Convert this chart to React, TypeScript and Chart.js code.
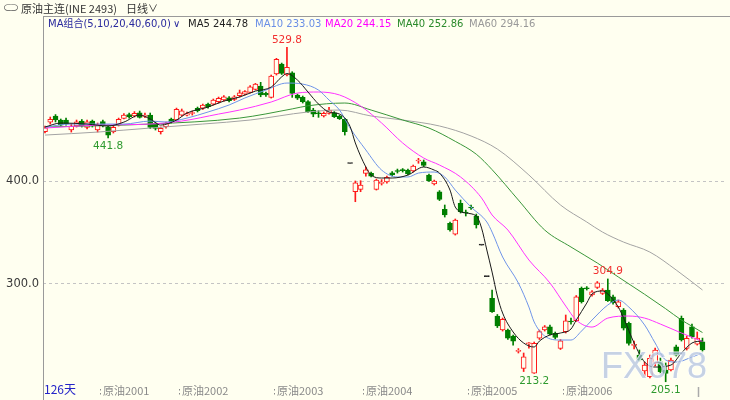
import React, { useEffect, useRef } from 'react';
import { Chart, registerables } from 'chart.js';

Chart.register(...registerables);

// ---- daily OHLC (126 bars) ----
const opens: number[] = [
  447.8, 457.0, 463.1, 459.2, 459.2, 449.5, 453.4, 458.2, 452.1, 458.2,
  449.5, 457.7, 452.7, 447.8, 454.3, 460.8, 464.5, 463.1, 466.3, 462.6,
  464.0, 456.0, 447.8, 452.7, 460.2, 459.2, 464.0, 464.0, 465.5, 470.6,
  470.6, 474.7, 474.7, 477.0, 478.6, 480.8, 479.3, 482.8, 484.4, 486.1,
  489.0, 492.2, 485.1, 481.2, 503.9, 513.6, 502.9, 505.1, 483.5, 481.2,
  477.0, 468.9, 466.0, 463.1, 465.7, 466.3, 463.1, 459.9, 417.0, 389.6,
  391.9, 407.4, 407.4, 391.9, 397.7, 399.0, 408.0, 410.0, 410.7, 410.7,
  409.7, 419.4, 418.7, 405.8, 397.1, 389.6, 372.5, 358.9, 348.5, 378.3,
  369.6, 374.4, 366.0, 337.8, 307.1, 286.1, 268.9, 255.3, 255.3, 249.5,
  234.6, 218.1, 242.0, 213.5, 247.3, 255.3, 258.5, 252.1, 237.5, 253.7,
  263.7, 264.3, 295.8, 296.1, 289.3, 296.8, 290.9, 294.1, 287.6, 277.9,
  274.7, 261.8, 240.4, 231.0, 215.5, 210.0, 223.3, 224.5, 216.5, 216.5,
  239.1, 266.7, 237.5, 258.5, 241.7, 243.9,
];
const highs: number[] = [
  453.4, 462.1, 464.5, 460.2, 461.1, 455.3, 459.2, 459.7, 459.2, 459.2,
  456.3, 459.2, 454.3, 453.4, 461.1, 465.5, 466.0, 467.4, 467.9, 466.0,
  466.0, 457.3, 452.4, 457.3, 461.1, 470.8, 469.9, 467.0, 467.9, 471.8,
  474.7, 475.7, 479.6, 481.5, 483.0, 482.0, 483.0, 488.3, 487.8, 492.7,
  494.8, 495.8, 486.4, 502.9, 519.1, 514.5, 529.8, 506.1, 484.4, 482.5,
  478.1, 470.6, 468.2, 467.0, 471.5, 467.4, 464.0, 460.8, 417.0, 400.0,
  400.3, 413.6, 408.7, 401.9, 401.4, 404.8, 409.2, 411.6, 412.1, 411.6,
  415.5, 422.0, 420.4, 406.8, 400.9, 390.7, 376.7, 360.2, 363.1, 381.5,
  371.8, 376.7, 367.9, 337.8, 307.1, 294.1, 270.4, 267.0, 256.3, 250.5,
  237.3, 233.0, 243.2, 243.7, 255.3, 259.7, 260.2, 253.4, 246.1, 269.9,
  267.0, 288.8, 297.1, 297.5, 293.7, 302.4, 295.6, 304.9, 289.3, 284.4,
  276.2, 263.1, 244.6, 235.9, 224.2, 231.0, 237.8, 228.1, 223.3, 228.1,
  240.7, 268.9, 249.5, 261.1, 253.4, 247.5,
];
const lows: number[] = [
  446.6, 455.3, 457.3, 453.4, 454.3, 447.5, 452.4, 452.4, 450.5, 452.4,
  447.5, 452.4, 441.8, 446.6, 453.4, 460.2, 461.1, 462.1, 461.1, 461.6,
  450.9, 449.5, 445.6, 451.4, 456.3, 458.2, 463.1, 463.1, 464.0, 467.0,
  469.4, 470.8, 473.8, 475.7, 477.6, 476.7, 478.1, 481.5, 483.5, 485.4,
  488.3, 481.8, 482.0, 480.5, 502.9, 503.4, 501.9, 481.2, 479.1, 475.7,
  466.5, 462.4, 461.8, 462.1, 465.0, 461.6, 459.7, 444.6, 417.0, 379.9,
  389.6, 404.8, 403.9, 391.2, 396.1, 398.0, 404.8, 407.7, 408.7, 405.8,
  408.7, 417.2, 414.0, 399.5, 396.1, 381.0, 365.0, 351.4, 347.5, 368.9,
  366.0, 372.3, 354.3, 337.8, 307.1, 272.3, 257.7, 254.3, 246.1, 240.7,
  233.0, 215.0, 237.8, 213.2, 246.1, 254.3, 250.5, 246.6, 236.4, 252.4,
  261.1, 263.6, 281.5, 294.1, 288.3, 295.6, 289.8, 283.0, 280.5, 276.7,
  255.3, 240.7, 236.9, 225.2, 210.6, 208.7, 220.4, 213.6, 205.1, 215.5,
  230.1, 244.6, 235.9, 247.5, 240.7, 234.9,
];
const closes: number[] = [
  451.7, 459.9, 459.2, 454.3, 455.3, 453.4, 457.5, 453.4, 457.5, 453.4,
  454.3, 453.4, 444.6, 452.1, 459.9, 464.0, 462.1, 465.7, 461.8, 464.0,
  452.1, 451.1, 451.1, 456.0, 457.5, 469.6, 468.2, 465.5, 466.5, 468.2,
  473.8, 472.1, 478.6, 480.3, 481.8, 477.9, 481.8, 485.7, 486.7, 491.5,
  494.1, 483.5, 483.5, 501.9, 518.1, 504.5, 510.4, 485.1, 480.3, 477.0,
  467.3, 465.0, 465.3, 465.7, 468.9, 462.4, 460.5, 447.8, 417.0, 398.3,
  396.1, 410.9, 404.8, 400.9, 398.7, 403.6, 405.8, 409.2, 410.0, 406.8,
  414.5, 420.1, 415.2, 400.3, 400.0, 382.2, 367.0, 352.4, 362.1, 370.2,
  368.9, 373.8, 357.3, 337.8, 307.1, 273.1, 259.2, 265.7, 247.3, 244.6,
  235.4, 229.4, 242.7, 242.4, 253.7, 258.5, 251.4, 248.2, 244.9, 264.3,
  263.1, 287.6, 282.8, 295.4, 292.5, 301.2, 294.1, 283.8, 281.8, 282.8,
  257.0, 242.4, 241.0, 226.2, 221.3, 227.8, 235.9, 214.8, 213.3, 226.2,
  231.0, 245.6, 247.3, 248.8, 247.5, 235.9,
];

// ---- moving averages, read at bar indices ----
const ma5Idx = [0, 3, 8, 12, 15, 18, 20, 22, 25, 27, 31, 34, 37, 40, 43, 45, 46, 48, 50, 52, 54, 56, 58, 59, 61, 62, 64, 66, 69, 72, 74, 75, 77, 78, 80, 82, 83, 84, 85, 86, 87, 89, 91, 93, 94, 96, 98, 100, 101, 103, 104, 106, 107, 109, 110, 112, 114, 116, 119, 121, 123, 125];
const ma5Val = [452.4, 456.3, 455.3, 453.4, 457.2, 464.0, 460.2, 454.3, 459.2, 466.0, 471.8, 477.6, 481.5, 487.3, 491.2, 501.1, 504.3, 498.0, 486.4, 474.7, 467.0, 465.0, 453.0, 436.9, 413.6, 405.8, 402.9, 402.9, 405.8, 413.6, 410.6, 407.7, 391.2, 374.7, 368.9, 366.0, 354.3, 333.0, 311.6, 288.3, 271.8, 253.4, 242.7, 238.8, 244.6, 250.5, 252.4, 256.3, 265.0, 281.5, 290.3, 293.2, 290.3, 277.6, 267.0, 242.7, 224.2, 219.4, 221.3, 233.0, 242.7, 244.78];
const ma10Idx = [0, 5, 15, 20, 23, 27, 31, 35, 38, 42, 46, 49, 52, 54, 56, 58, 61, 64, 67, 69, 71, 74, 76, 78, 81, 84, 85, 87, 90, 92, 93, 95, 98, 100, 102, 104, 107, 109, 111, 114, 116, 118, 120, 123, 125];
const ma10Val = [452.4, 455.3, 455.3, 458.2, 457.3, 461.1, 467.0, 473.8, 480.6, 488.3, 495.1, 494.1, 488.3, 478.6, 468.9, 451.4, 430.1, 410.6, 403.9, 403.9, 407.7, 408.7, 403.9, 391.2, 374.7, 360.2, 350.4, 326.2, 300.9, 277.6, 263.1, 249.5, 245.6, 245.6, 254.3, 265.0, 279.6, 284.4, 277.6, 260.2, 242.7, 226.2, 224.2, 229.1, 233.03];
const ma20Idx = [0, 10, 20, 26, 33, 37, 43, 48, 52, 56, 60, 64, 68, 72, 75, 79, 83, 85, 88, 92, 96, 99, 101, 104, 107, 111, 114, 117, 121, 125];
const ma20Val = [451.4, 454.3, 455.3, 458.2, 465.0, 468.9, 476.7, 485.4, 486.4, 483.5, 472.8, 456.3, 436.9, 422.3, 415.5, 403.9, 383.5, 367.0, 352.4, 323.3, 301.0, 278.6, 265.0, 258.2, 266.9, 268.9, 266.9, 261.1, 252.4, 244.15];
const ma40Idx = [0, 20, 37, 47, 50, 57, 62, 68, 73, 78, 82, 85, 90, 95, 100, 105, 109, 114, 118, 121, 123, 125];
const ma40Val = [452.4, 455.3, 461.1, 470.0, 473.0, 475.7, 468.9, 459.2, 451.4, 438.5, 426.0, 411.0, 381.5, 352.4, 335.9, 320.4, 306.8, 290.0, 276.0, 265.0, 259.0, 252.86];
const ma60Idx = [0, 10, 20, 30, 39, 50, 56, 62, 68, 75, 81, 86, 92, 98, 103, 106, 110, 115, 120, 125];
const ma60Val = [444.6, 447.5, 451.4, 455.3, 459.2, 467.0, 468.9, 463.1, 459.2, 453.4, 443.7, 431.0, 405.8, 376.7, 360.2, 350.4, 340.7, 331.0, 313.6, 294.16];

// ---- axes / labels ----
const yTickValues = [300, 400];
const contractStarts = [10.5, 25.5, 43.5, 60.5, 80.5, 98.5];
const contractLabels = ['原油2001', '原油2002', '原油2003', '原油2004', '原油2005', '原油2006'];
const dayCountLabel = '126天';
const extremeIdx = [46, 107, 12, 93, 118];
const extremeKind = ['high', 'high', 'low', 'low', 'low'];

const BG = '#FFFFF0';
const RED = '#FF1A1A';
const GREEN = '#007F00';
const CJK = '"Noto Sans CJK SC", "DejaVu Sans", sans-serif';
const LAT = '"DejaVu Sans", "Noto Sans CJK SC", sans-serif';

const isFlat = (i: number) => highs[i] === lows[i];
const edgeColors = opens.map((o, i) => (isFlat(i) ? '#222222' : closes[i] >= o ? RED : GREEN));
const fillColors = opens.map((o, i) => (isFlat(i) ? '#222222' : closes[i] >= o ? BG : GREEN));

const overlayPlugin = {
  id: 'overlay',
  afterDatasetsDraw(chart: any) {
    const { ctx } = chart;
    ctx.save();
    ctx.font = '36px "Liberation Sans", Arial, sans-serif';
    ctx.textBaseline = 'alphabetic';
    ctx.textAlign = 'left';
    ctx.fillStyle = 'rgba(176,192,222,0.72)';
    ctx.strokeStyle = 'rgba(255,255,255,0.85)';
    ctx.lineWidth = 1.2;
    ctx.strokeText('FX678', 601, 378);
    ctx.fillText('FX678', 601, 378);
    ctx.restore();
  },
  afterDraw(chart: any) {
    const { ctx } = chart;
    const x = chart.scales.x;
    const y = chart.scales.y;
    ctx.save();
    // frame lines
    ctx.strokeStyle = '#9a9a9a';
    ctx.lineWidth = 1;
    ctx.beginPath();
    ctx.moveTo(43.5, 16);
    ctx.lineTo(43.5, 400);
    ctx.moveTo(43, 16.5);
    ctx.lineTo(730, 16.5);
    ctx.stroke();

    // contract labels along bottom
    ctx.textBaseline = 'middle';
    ctx.textAlign = 'left';
    ctx.font = '11px ' + CJK;
    contractStarts.forEach((b, k) => {
      const px = Math.round(x.getPixelForValue(b));
      ctx.fillStyle = '#8a8a8a';
      ctx.fillRect(px, 389, 1, 1.5);
      ctx.fillRect(px, 393, 1, 1.5);
      ctx.fillText(contractLabels[k], px + 3, 391);
    });
    ctx.fillStyle = '#2323c8';
    ctx.font = '12px ' + CJK;
    ctx.fillText(dayCountLabel, 44, 389);

    // right-end marker
    ctx.strokeStyle = '#aaaaaa';
    ctx.lineWidth = 1.5;
    ctx.beginPath();
    ctx.moveTo(698.5, 387);
    ctx.lineTo(698.5, 397);
    ctx.stroke();

    // extreme value labels
    ctx.font = '10.5px ' + LAT;
    ctx.textAlign = 'center';
    extremeIdx.forEach((i, k) => {
      const px = x.getPixelForValue(i);
      if (extremeKind[k] === 'high') {
        ctx.fillStyle = '#F23030';
        ctx.textBaseline = 'bottom';
        ctx.fillText(highs[i].toFixed(1), px, y.getPixelForValue(highs[i]) - 2);
      } else {
        ctx.fillStyle = '#2E9A2E';
        ctx.textBaseline = 'top';
        ctx.fillText(lows[i].toFixed(1), px, y.getPixelForValue(lows[i]) + 3);
      }
    });
    ctx.restore();
  },
};

function maDataset(idx: number[], val: number[], color: string) {
  return {
    type: 'line' as const,
    data: idx.map((i, k) => ({ x: i, y: val[k] })),
    borderColor: color,
    borderWidth: 1,
    pointRadius: 0,
    cubicInterpolationMode: 'monotone' as const,
    fill: false,
    order: 0,
  };
}

export default function App() {
  const ref = useRef<HTMLCanvasElement>(null);
  useEffect(() => {
    document.body.style.margin = '0';
    const chart = new Chart(ref.current as HTMLCanvasElement, {
      type: 'bar',
      data: {
        datasets: [
          {
            type: 'bar',
            data: lows.map((l, i) => ({ x: i, y: [l, highs[i]] })) as any,
            backgroundColor: edgeColors,
            borderWidth: 0,
            barThickness: 1,
            grouped: false,
            order: 2,
          } as any,
          {
            type: 'bar',
            data: opens.map((o, i) => ({ x: i, y: [Math.min(o, closes[i]), Math.max(o, closes[i])] })) as any,
            backgroundColor: fillColors,
            borderColor: edgeColors,
            borderWidth: 1,
            borderSkipped: false,
            barThickness: 5,
            minBarLength: 1,
            grouped: false,
            order: 1,
          } as any,
          maDataset(ma5Idx, ma5Val, '#1a1a1a'),
          maDataset(ma10Idx, ma10Val, '#6f94e8'),
          maDataset(ma20Idx, ma20Val, '#ff33ff'),
          maDataset(ma40Idx, ma40Val, '#3a963a'),
          maDataset(ma60Idx, ma60Val, '#a3a3a3'),
        ] as any,
      },
      options: {
        responsive: false,
        animation: false,
        events: [],
        layout: { padding: { top: 35, right: 3, bottom: 15, left: 0 } },
        plugins: { legend: { display: false }, tooltip: { enabled: false } },
        scales: {
          x: {
            type: 'linear',
            display: false,
            offset: false,
            min: -0.38,
            max: 129.66,
            grid: { display: false, offset: false },
          },
          y: {
            type: 'linear',
            min: 201.94,
            max: 541.75,
            afterFit: (s: any) => {
              s.width = 43;
            },
            afterBuildTicks: (s: any) => {
              s.ticks = yTickValues.map((v) => ({ value: v }));
            },
            ticks: {
              padding: 4,
              color: '#3a3a3a',
              font: { family: 'DejaVu Sans', size: 11.5 },
              callback: (v: any) => Number(v).toFixed(1),
            },
            grid: { color: '#c4c4c4', lineWidth: 1, drawTicks: false },
            border: { display: false, dash: [3, 3] },
          },
        },
      } as any,
      plugins: [overlayPlugin],
    });
    return () => chart.destroy();
  }, []);

  const row1: React.CSSProperties = { position: 'absolute', top: 1, lineHeight: '14px', fontSize: 11, fontFamily: CJK, color: '#333', whiteSpace: 'nowrap' };
  const row2: React.CSSProperties = { position: 'absolute', top: 17, lineHeight: '14px', fontSize: 10, fontFamily: LAT, whiteSpace: 'nowrap' };

  return (
    <div style={{ position: 'absolute', left: 0, top: 0, width: 730, height: 400, background: BG, overflow: 'hidden' }}>
      <canvas ref={ref} width={730} height={400} style={{ position: 'absolute', left: 0, top: 0 }} />
      <span style={{ ...row1, left: 3, fontSize: 9, color: '#555', letterSpacing: -2 }}>⊂⊃</span>
      <span style={{ ...row1, left: 21 }}>原油主连(INE 2493)</span>
      <span style={{ ...row1, left: 126 }}>日线</span>
      <span style={{ ...row1, left: 148, fontSize: 10 }}>∨</span>
      <span style={{ ...row2, left: 48, color: '#2a2a9e' }}>MA组合(5,10,20,40,60,0)</span>
      <span style={{ ...row2, left: 173, color: '#2a2a9e' }}>∨</span>
      <span style={{ ...row2, left: 188, color: '#222' }}>MA5 244.78</span>
      <span style={{ ...row2, left: 255, color: '#6a8fe6' }}>MA10 233.03</span>
      <span style={{ ...row2, left: 325, color: '#ff00ff' }}>MA20 244.15</span>
      <span style={{ ...row2, left: 397, color: '#2a8a2a' }}>MA40 252.86</span>
      <span style={{ ...row2, left: 469, color: '#999' }}>MA60 294.16</span>
    </div>
  );
}
